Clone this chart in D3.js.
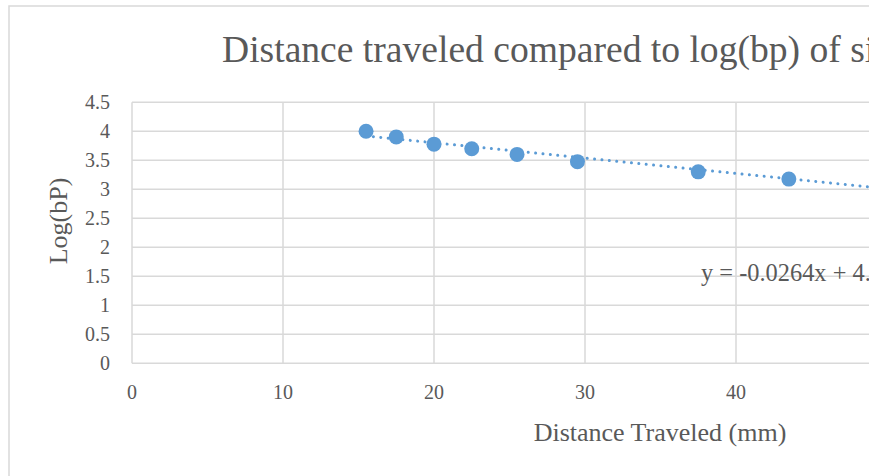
<!DOCTYPE html>
<html>
<head>
<meta charset="utf-8">
<script src="https://cdn.jsdelivr.net/npm/d3@7"></script>
<style>
  body { margin: 0; background: #fff; }
  svg { display: block; font-family: "Liberation Serif", "Times New Roman", serif; }
  .grid line { stroke: #d9d9d9; stroke-width: 1.5; }
  .tick-label { fill: #595959; font-size: 20px; }
</style>
</head>
<body>
<svg class="chart"></svg>
<script>
// DATA /////////////////////////////////////////
const distance = [15.5, 17.5, 20, 22.5, 25.5, 29.5, 37.5, 43.5];
const logBp = [4.0, 3.903, 3.778, 3.699, 3.602, 3.477, 3.301, 3.176];
const xTicks = [0, 10, 20, 30, 40, 50, 60];
const yTicks = [0, 0.5, 1, 1.5, 2, 2.5, 3, 3.5, 4, 4.5];
// linear trendline shown on the chart (equation label is cut off)
const trendSlope = -0.0264;
const trendIntercept = 4.33;
const trendRange = [15.5, 60];

// DEFINITIONS //////////////////////////////////
const width = 869;
const height = 476;
const plot = { left: 132, top: 102.3, bottom: 363.3, right: 1038 };

const svg = d3.select(".chart").attr("width", width).attr("height", height);

const x = d3.scaleLinear().domain([0, 60]).range([plot.left, plot.right]);
const y = d3.scaleLinear().domain([0, 4.5]).range([plot.bottom, plot.top]);

// chart frame
svg.append("rect")
  .attr("x", 9).attr("y", 6)
  .attr("width", 1200).attr("height", 600)
  .attr("fill", "none")
  .attr("stroke", "#d9d9d9")
  .attr("stroke-width", 1.5);

// GRID /////////////////////////////////////////
const grid = svg.append("g").attr("class", "grid");
grid.selectAll(".hline")
  .data(yTicks)
  .enter()
  .append("line")
  .attr("x1", plot.left).attr("x2", plot.right)
  .attr("y1", (d) => y(d)).attr("y2", (d) => y(d));
grid.selectAll(".vline")
  .data(xTicks)
  .enter()
  .append("line")
  .attr("x1", (d) => x(d)).attr("x2", (d) => x(d))
  .attr("y1", plot.top).attr("y2", plot.bottom);

// AXIS LABELS //////////////////////////////////
svg.selectAll(".ylab")
  .data(yTicks)
  .enter()
  .append("text")
  .attr("class", "tick-label")
  .attr("x", 110)
  .attr("y", (d) => y(d) + 7)
  .attr("text-anchor", "end")
  .text((d) => d);

// only the labels that fall inside the visible window
svg.selectAll(".xlab")
  .data(xTicks.filter((d) => x(d) < width - 10))
  .enter()
  .append("text")
  .attr("class", "tick-label")
  .attr("x", (d) => x(d))
  .attr("y", 399)
  .attr("text-anchor", "middle")
  .text((d) => d);

svg.append("text")
  .attr("x", 222).attr("y", 62)
  .attr("fill", "#595959")
  .style("font-size", "37.6px")
  .text("Distance traveled compared to log(bp) of size standards");

svg.append("text")
  .attr("x", 660).attr("y", 441)
  .attr("fill", "#595959")
  .attr("text-anchor", "middle")
  .style("font-size", "26px")
  .text("Distance Traveled (mm)");

svg.append("text")
  .attr("transform", "translate(67, 221) rotate(-90)")
  .attr("fill", "#595959")
  .attr("text-anchor", "middle")
  .style("font-size", "26px")
  .text("Log(bP)");

// TRENDLINE ////////////////////////////////////
const trend = trendRange.map((d) => [d, trendSlope * d + trendIntercept]);
svg.append("path")
  .attr("d", d3.line().x((d) => x(d[0])).y((d) => y(d[1]))(trend))
  .attr("fill", "none")
  .attr("stroke", "#5b9bd5")
  .attr("stroke-width", 3)
  .attr("stroke-linecap", "round")
  .attr("stroke-dasharray", "0.01 7.4");

// POINTS ///////////////////////////////////////
svg.selectAll(".dot")
  .data(distance)
  .enter()
  .append("circle")
  .attr("class", "dot")
  .attr("cx", (d) => x(d))
  .attr("cy", (d, i) => y(logBp[i]))
  .attr("r", 7.5)
  .attr("fill", "#5b9bd5");

svg.append("text")
  .attr("x", 701).attr("y", 281)
  .attr("fill", "#595959")
  .style("font-size", "24.4px")
  .text("y = -0.0264x + 4.3329");
</script>
</body>
</html>
